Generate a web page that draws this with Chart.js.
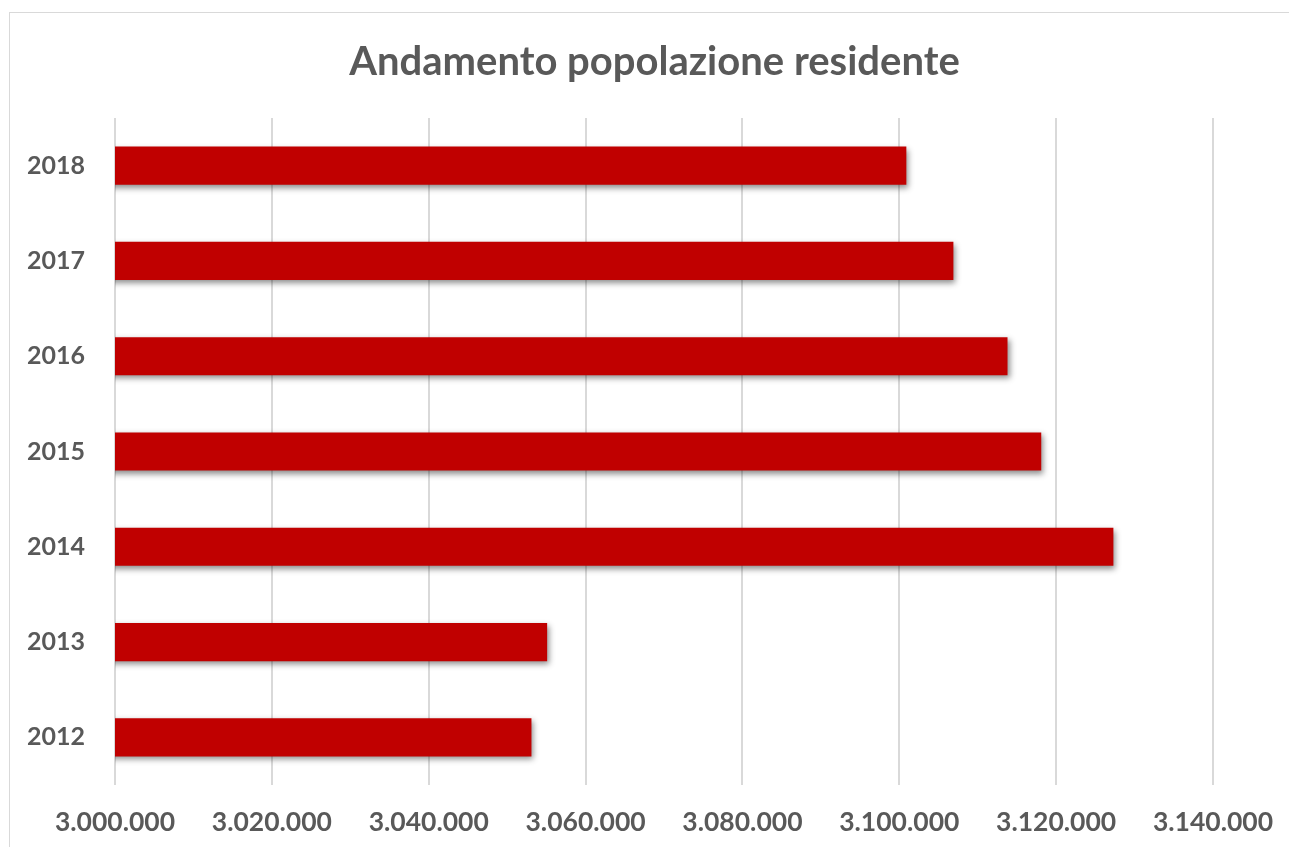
<!DOCTYPE html>
<html>
<head>
<meta charset="utf-8">
<script src="https://cdn.jsdelivr.net/npm/chart.js@4"></script>
<style>
  html, body { margin: 0; padding: 0; background: #fff; overflow: hidden; }
  #frame {
    position: absolute; left: 9px; top: 12px;
    width: 1400px; height: 900px;
    border: 1px solid #d9d9d9;
  }
  #wrap { position: absolute; left: 0; top: 0; width: 1309px; height: 847px; }
</style>
</head>
<body>
<div id="frame"></div>
<div id="wrap"><canvas id="chart"></canvas></div>
<script>
const years = ["2018", "2017", "2016", "2015", "2014", "2013", "2012"];
const population = [3100900, 3106900, 3113800, 3118100, 3127300, 3055100, 3053100];
const axisMin = 3000000;
const axisMax = 3140000;
const axisStep = 20000;

const TEXT_COLOR = "#595959";
const BAR_COLOR = "#C00000";
const GRID_COLOR = "#d9d9d9";

// draws the soft drop shadow under the bars
const barShadow = {
  id: "barShadow",
  beforeDatasetsDraw(chart) {
    const ctx = chart.ctx;
    ctx.save();
    ctx.shadowColor = "rgba(0, 0, 0, 0.45)";
    ctx.shadowBlur = 6;
    ctx.shadowOffsetX = 2;
    ctx.shadowOffsetY = 3;
  },
  afterDatasetsDraw(chart) {
    chart.ctx.restore();
  },
};

// the title in the original sits centred on the whole frame, not the plot
const titleCenter = {
  id: "titleCenter",
  afterLayout(chart) {
    if (chart.titleBlock) chart.titleBlock.left = 96;
  },
};

function formatIt(value) {
  return String(value).replace(/\B(?=(\d{3})+(?!\d))/g, ".");
}

const ctx = document.getElementById("chart").getContext("2d");
new Chart(ctx, {
  type: "bar",
  data: {
    labels: years,
    datasets: [
      {
        label: "Popolazione residente",
        data: population,
        backgroundColor: BAR_COLOR,
        borderWidth: 0,
        categoryPercentage: 1.0,
        barPercentage: 0.4,
      },
    ],
  },
  plugins: [barShadow, titleCenter],
  options: {
    indexAxis: "y",
    responsive: true,
    maintainAspectRatio: false,
    animation: false,
    layout: { padding: { left: 0, right: 96, top: 0, bottom: 0 } },
    plugins: {
      legend: { display: false },
      tooltip: { enabled: false },
      title: {
        display: true,
        text: "Andamento popolazione residente",
        color: TEXT_COLOR,
        font: { family: "Lato", size: 40, weight: "bold" },
        padding: { top: 38, bottom: 32 },
      },
    },
    scales: {
      x: {
        min: axisMin,
        max: axisMax,
        ticks: {
          stepSize: axisStep,
          color: TEXT_COLOR,
          font: { family: "Lato", size: 26.5, weight: "bold" },
          padding: 22,
          maxRotation: 0,
          callback: (value) => formatIt(value),
        },
        grid: { color: GRID_COLOR, lineWidth: 2, drawTicks: false },
        border: { display: false },
        afterFit: (scale) => { scale.height = 62; },
      },
      y: {
        ticks: {
          color: TEXT_COLOR,
          font: { family: "Lato", size: 25, weight: "bold" },
          padding: 22,
        },
        grid: { display: false },
        border: { display: false },
        afterFit: (scale) => { scale.width = 115; },
      },
    },
  },
});
</script>
</body>
</html>
